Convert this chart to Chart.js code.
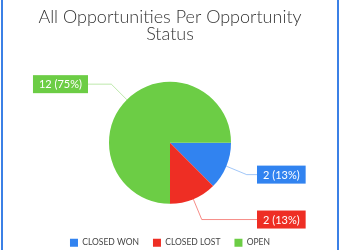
<!DOCTYPE html>
<html>
<head>
<meta charset="utf-8">
<script src="https://cdn.jsdelivr.net/npm/chart.js@4.4.1/dist/chart.umd.min.js"></script>
<style>
  html, body { margin: 0; padding: 0; background: #fff; }
  #wrap { position: relative; width: 340px; height: 250px; }
  #wrap canvas { position: absolute; left: 0; top: 0; }
  .edge { position: absolute; top: 0; width: 2px; height: 250px; background: #3b80e6; }
</style>
</head>
<body>
<div id="wrap">
  <canvas id="pie" width="340" height="250"></canvas>
  <div class="edge" style="left:1px"></div>
  <div class="edge" style="left:337px"></div>
</div>
<script>
const titleLines = ["All Opportunities Per Opportunity", "Status"];
const statuses = ["CLOSED WON", "CLOSED LOST", "OPEN"];
const counts = [2, 2, 12];
const sliceColors = ["#3183f0", "#ee2e24", "#6ccd45"];
const lineColors = ["rgba(49,131,240,0.45)", "rgba(238,46,36,0.55)", "rgba(108,205,69,0.45)"];

// callout boxes with the count and share of each slice
const calloutPlugin = {
  id: "callouts",
  afterDraw(chart) {
    const ctx = chart.ctx;
    const meta = chart.getDatasetMeta(0);
    const total = counts.reduce((a, b) => a + b, 0);
    ctx.save();
    ctx.font = "11px Lato";
    ctx.textBaseline = "middle";
    ctx.textAlign = "center";
    meta.data.forEach((arc, i) => {
      const p = arc.getProps(["x", "y", "startAngle", "endAngle", "outerRadius"], true);
      const mid = (p.startAngle + p.endAngle) / 2;
      const cos = Math.cos(mid), sin = Math.sin(mid);
      const sx = p.x + cos * p.outerRadius, sy = p.y + sin * p.outerRadius;
      const ex = p.x + cos * (p.outerRadius + 22), ey = p.y + sin * (p.outerRadius + 22);
      const right = cos >= 0;
      const text = counts[i] + " (" + Math.round(counts[i] / total * 100) + "%)";
      const w = ctx.measureText(text).width + 12;
      const h = 18;
      const bx = right ? p.x + p.outerRadius + 26 : p.x - p.outerRadius - 21 - w;
      const lx = right ? bx : bx + w;

      ctx.strokeStyle = lineColors[i];
      ctx.lineWidth = 1;
      ctx.beginPath();
      ctx.moveTo(sx, sy);
      ctx.lineTo(ex, ey);
      ctx.lineTo(lx, ey);
      ctx.stroke();

      ctx.fillStyle = sliceColors[i];
      ctx.fillRect(bx, ey - h / 2, w, h);
      ctx.fillStyle = "#fff";
      ctx.fillText(text, bx + w / 2, ey + 0.5);
    });
    ctx.restore();
  }
};

new Chart(document.getElementById("pie"), {
  type: "pie",
  data: {
    labels: statuses,
    datasets: [{
      data: counts,
      backgroundColor: sliceColors,
      borderWidth: 0,
      radius: 61
    }]
  },
  options: {
    responsive: false,
    animation: false,
    rotation: 90,
    layout: { padding: { top: 0, bottom: -7, left: 0, right: 0 } },
    plugins: {
      title: {
        display: true,
        text: titleLines,
        color: "#333",
        font: { family: "Lato", size: 18, weight: 300, lineHeight: 0.95 },
        padding: { top: 9, bottom: 18 }
      },
      legend: {
        position: "bottom",
        labels: {
          boxWidth: 8,
          boxHeight: 8,
          padding: 14,
          color: "#444",
          font: { family: "Lato", size: 8.5 }
        }
      },
      tooltip: { enabled: false }
    }
  },
  plugins: [calloutPlugin]
});
</script>
</body>
</html>
